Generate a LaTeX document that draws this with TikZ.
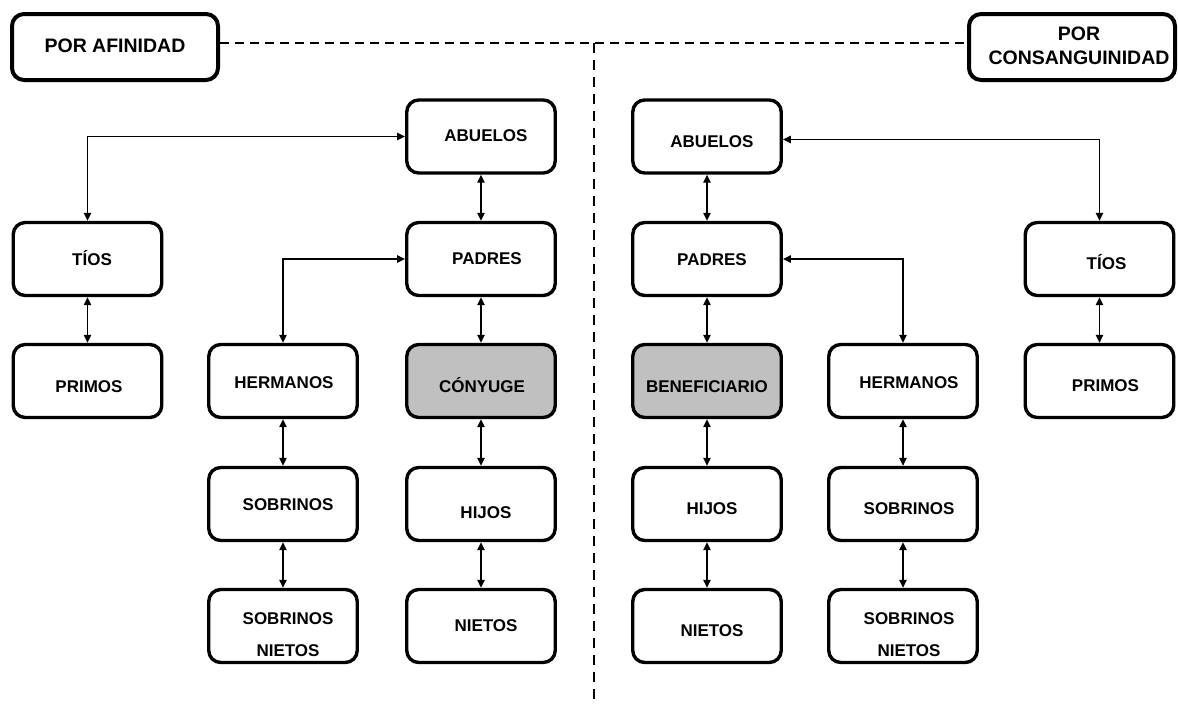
\documentclass[tikz,border=0pt]{standalone}
\usepackage{fontspec}
\setmainfont{Liberation Sans}
\usetikzlibrary{arrows.meta}
\definecolor{boxgray}{RGB}{192,192,192}
\tikzset{
  box/.style={draw=black, line width=3.4pt, rounded corners=12pt, fill=white,
    minimum width=148.5pt, minimum height=73pt, inner sep=0pt},
  graybox/.style={box, fill=boxgray},
  header/.style={draw=black, line width=4pt, rounded corners=12pt, fill=white,
    minimum width=206pt, minimum height=66pt, inner sep=0pt},
  lbl/.style={font=\bfseries\fontsize{17}{32}\selectfont, text height=12.2pt,
    text depth=0pt, inner sep=0pt, align=center},
  lbltwo/.style={lbl, text height=44.2pt},
  hlbl/.style={font=\bfseries\fontsize{19.5}{24}\selectfont, text height=14pt,
    text depth=0pt, inner sep=0pt, align=center},
  hlbltwo/.style={hlbl, text height=38pt},
  conn/.style={line width=1.3pt, {Triangle[length=8pt,width=7.5pt]}-{Triangle[length=8pt,width=7.5pt]}},
  sep/.style={line width=1.8pt, dash pattern=on 9pt off 6pt},
  vsep/.style={line width=2.5pt, dash pattern=on 10pt off 7pt}
}
\begin{document}
\begin{tikzpicture}[x=1pt,y=1pt]
\useasboundingbox (0,0) rectangle (1178,-705);
% separators
\node[header] (hdL) at (115,-47) {};
\node[header] (hdR) at (1072,-47) {};
\coordinate (top) at (594,-43);
\coordinate (bot) at (594,-705);
\draw[sep] ([yshift=4pt]hdL.east) -- ([yshift=4pt]hdR.west);
\draw[vsep] (top) -- (bot);
\node[hlbl] (hdLt) at ([yshift=2pt]hdL.center) {POR AFINIDAD};
\node[hlbltwo] (hdRt) at ([xshift=7pt,yshift=2pt]hdR.center) {POR\\CONSANGUINIDAD};
% left boxes
\node[box] (tiL) at (87.5,-259) {};
\node[box] (prL) at (87.5,-381) {};
\node[box] (abL) at (481,-136.5) {};
\node[box] (paL) at (481,-259) {};
\node[graybox] (coL) at (481,-381) {};
\node[box] (hiL) at (481,-504) {};
\node[box] (niL) at (481,-626) {};
\node[box] (heL) at (283,-381) {};
\node[box] (soL) at (283,-504) {};
\node[box] (snL) at (283,-626) {};
% right boxes
\node[box] (abR) at (707,-136.5) {};
\node[box] (paR) at (707,-259) {};
\node[graybox] (beR) at (707,-381) {};
\node[box] (hiR) at (707,-504) {};
\node[box] (niR) at (707,-626) {};
\node[box] (heR) at (903,-381) {};
\node[box] (soR) at (903,-504) {};
\node[box] (snR) at (903,-626) {};
\node[box] (tiR) at (1099.5,-259) {};
\node[box] (prR) at (1099.5,-381) {};
% labels
\node[lbl] (tiLt) at ([xshift=4.5pt]tiL.center) {TÍOS};
\node[lbl] (prLt) at ([xshift=1.5pt,yshift=-5pt]prL.center) {PRIMOS};
\node[lbl] (abLt) at ([xshift=5pt,yshift=1.5pt]abL.center) {ABUELOS};
\node[lbl] (paLt) at ([xshift=6pt,yshift=1pt]paL.center) {PADRES};
\node[lbl] (coLt) at ([xshift=1pt,yshift=-5pt]coL.center) {CÓNYUGE};
\node[lbl] (hiLt) at ([xshift=5pt,yshift=-8pt]hiL.center) {HIJOS};
\node[lbl] (niLt) at ([xshift=5pt,yshift=1pt]niL.center) {NIETOS};
\node[lbl] (heLt) at ([xshift=1pt,yshift=-1pt]heL.center) {HERMANOS};
\node[lbl] (soLt) at ([xshift=5pt]soL.center) {SOBRINOS};
\node[lbltwo] (snLt) at ([xshift=5pt,yshift=-8pt]snL.center) {SOBRINOS\\NIETOS};
\node[lbl] (abRt) at ([xshift=5pt,yshift=-4.5pt]abR.center) {ABUELOS};
\node[lbl] (paRt) at ([xshift=5pt]paR.center) {PADRES};
\node[lbl] (beRt) at ([yshift=-5pt]beR.center) {BENEFICIARIO};
\node[lbl] (hiRt) at ([xshift=5pt,yshift=-4pt]hiR.center) {HIJOS};
\node[lbl] (niRt) at ([xshift=5pt,yshift=-4pt]niR.center) {NIETOS};
\node[lbl] (heRt) at ([xshift=6pt,yshift=-1pt]heR.center) {HERMANOS};
\node[lbl] (soRt) at ([xshift=6pt,yshift=-4pt]soR.center) {SOBRINOS};
\node[lbltwo] (snRt) at ([xshift=6pt,yshift=-8.5pt]snR.center) {SOBRINOS\\NIETOS};
\node[lbl] (tiRt) at ([xshift=7pt,yshift=-4pt]tiR.center) {TÍOS};
\node[lbl] (prRt) at ([xshift=6pt,yshift=-4pt]prR.center) {PRIMOS};
% connectors left
\draw[conn] (abL.west) -| (tiL.north);
\draw[conn] (paL.west) -| (heL.north);
\draw[conn] (tiL) -- (prL);
\draw[conn] (abL) -- (paL);
\draw[conn] (paL) -- (coL);
\draw[conn] (coL) -- (hiL);
\draw[conn] (hiL) -- (niL);
\draw[conn] (heL) -- (soL);
\draw[conn] (soL) -- (snL);
% connectors right
\draw[conn] ([yshift=-3pt]abR.east) -| (tiR.north);
\draw[conn] (paR.east) -| (heR.north);
\draw[conn] (tiR) -- (prR);
\draw[conn] (abR) -- (paR);
\draw[conn] (paR) -- (beR);
\draw[conn] (beR) -- (hiR);
\draw[conn] (hiR) -- (niR);
\draw[conn] (heR) -- (soR);
\draw[conn] (soR) -- (snR);
\end{tikzpicture}
\end{document}
